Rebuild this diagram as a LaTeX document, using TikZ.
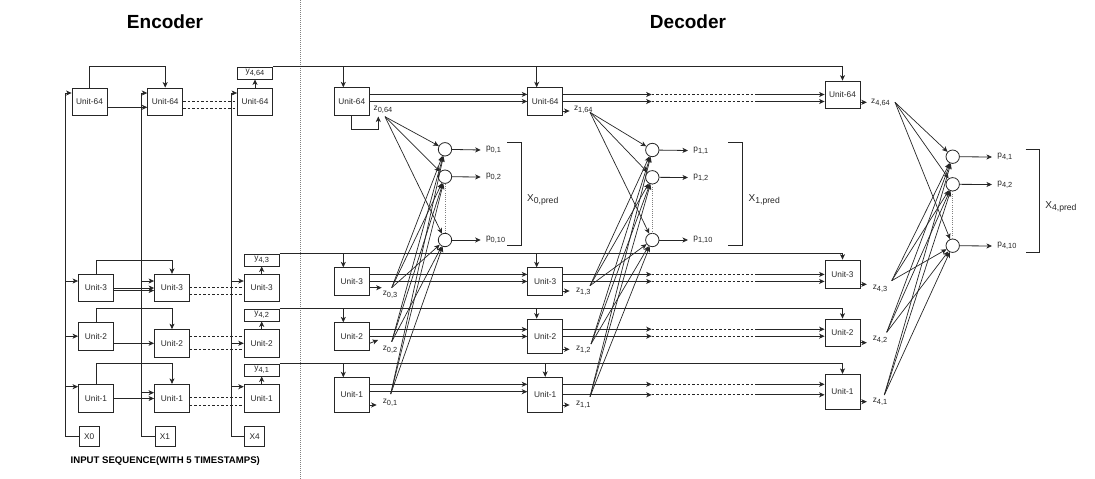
\documentclass[tikz,border=0pt]{standalone}
\usepackage{fontspec}
\setmainfont{Liberation Sans}
\usetikzlibrary{arrows.meta}
\newcommand{\subtxt}[1]{\raisebox{-2pt}{\fontsize{7.4}{8}\selectfont #1}}
\newcommand{\subbig}[1]{\raisebox{-2.2pt}{\fontsize{8.6}{9}\selectfont #1}}

\begin{document}
\begin{tikzpicture}[x=1pt,y=-1pt,line width=0.8pt,color=black!85,
  font=\fontsize{8.3}{10}\selectfont,
  arr/.style={-{Stealth[length=5.5pt,width=5pt,inset=1.5pt]}},
  unit/.style={draw,minimum width=35pt,minimum height=27.5pt,inner sep=0pt},
  ybox/.style={draw,minimum width=35pt,minimum height=12pt,inner sep=0pt},
  xbox/.style={draw,minimum size=20pt,inner sep=0pt},
  neuron/.style={draw,circle,minimum size=13.4pt,inner sep=0pt},
  plabel/.style={anchor=west,inner xsep=5pt,inner ysep=1pt},
  dashline/.style={dash pattern=on 2.5pt off 2pt},
  title/.style={font=\fontsize{19}{22}\selectfont\bfseries,text=black}]
\useasboundingbox (0,0) rectangle (1095,479);

\draw[gray,dash pattern=on 1pt off 1pt,line width=0.6pt] (300,0) -- (300,479);
\node[title] (enc) at (165,21.5) {Encoder};
\node[title] (dec) at (688,21.5) {Decoder};
\node[font=\fontsize{9.6}{11}\selectfont\bfseries,text=black] (inseq) at (165.3,461) {INPUT SEQUENCE(WITH 5 TIMESTAMPS)};

% encoder
\node[unit,minimum height=27pt] (e641) at (89.5,101.5) {Unit-64};
\node[unit,minimum height=27pt] (e642) at (165.2,101.5) {Unit-64};
\node[unit,minimum height=27pt] (e643) at (255,101.5) {Unit-64};
\node[unit] (e31) at (96,288) {Unit-3};
\node[unit] (e32) at (172,288) {Unit-3};
\node[unit] (e33) at (261.7,288) {Unit-3};
\node[unit] (e21) at (96,336.2) {Unit-2};
\node[unit] (e22) at (172,343.3) {Unit-2};
\node[unit] (e23) at (261.7,343.3) {Unit-2};
\node[unit,minimum height=28.4pt] (e11) at (96,398.5) {Unit-1};
\node[unit,minimum height=28.4pt] (e12) at (172,398.5) {Unit-1};
\node[unit,minimum height=28.4pt] (e13) at (261.7,398.5) {Unit-1};
\node[xbox] (x0) at (89.2,436.5) {X0};
\node[xbox] (x1) at (165,436.5) {X1};
\node[xbox] (x4) at (254.6,436.5) {X4};
\node[ybox] (y464) at (255,73) {y\subtxt{4,64}};
\node[ybox] (y43) at (261.7,260) {y\subtxt{4,3}};
\node[ybox] (y42) at (261.7,315) {y\subtxt{4,2}};
\node[ybox] (y41) at (261.7,370) {y\subtxt{4,1}};

\coordinate (in0) at (65,93);
\coordinate (in1) at (141,93);
\coordinate (in4) at (231,93);
\draw (x0.west) -| (in0);
\draw (x1.west) -| (in1);
\draw (x4.west) -| (in4);
\draw[arr] (in0) -- (in0 -| e641.west);
\draw[arr] (in1) -- (in1 -| e642.west);
\draw[arr] (in4) -- (in4 -| e643.west);
\foreach \b/\c/\s in {e31/in0/7,e32/in1/7,e33/in4/7,e21/in0/0,e23/in4/0,e11/in0/11.8,e12/in1/5.8,e13/in4/11.8} {
  \coordinate (t) at ([yshift=\s pt]\b.west);
  \draw[arr] (t -| \c) -- (t);
}
\draw[arr] ([yshift=-5.8pt]e641.east) -- ([yshift=-5.8pt]e642.west);
\draw[arr] (e31.east) -- (e32.west);
\draw[arr] ([yshift=-2.5pt]e31.east) -- ([yshift=-2.5pt]e32.west);
\draw[arr] ([yshift=-7.1pt]e21.east) -- (e22.west);
\draw[arr] (e11.east) -- (e12.west);
\draw[arr] (e641.north) -- ++(0,-21.3) -| (e642.north);
\draw[arr] (e31.north) -- ++(0,-13.3) -| (e32.north);
\draw[arr] (e21.north) -- ++(0,-13.3) -| (e22.north);
\draw[arr] (e11.north) -- ++(0,-20.3) -| (e12.north);
\foreach \a/\b/\s in {e642/e643/0,e642/e643/-6.8,e32/e33/0.7,e32/e33/-6,e22/e23/7.3,e22/e23/-5.7,e12/e13/0.8,e12/e13/-6.5}
  \draw[dashline] ([yshift=\s pt]\a.east) -- ([yshift=\s pt]\b.west);
\draw[arr] (e643.north) -- (y464.south);
\draw[arr] (e33.north) -- (y43.south);
\draw[arr] (e23.north) -- (y42.south);
\draw[arr] (e13.north) -- (y41.south);

% decoder
\node[unit,minimum height=27.3pt] (d641) at (351.8,101.4) {Unit-64};
\node[unit,minimum height=27.3pt] (d31) at (351.8,281.4) {Unit-3};
\node[unit,minimum height=27.3pt] (d21) at (351.8,336.4) {Unit-2};
\node[unit,minimum height=34.6pt] (d11) at (351.8,395) {Unit-1};
\node[unit,minimum height=27.6pt] (d642) at (545.2,101.5) {Unit-64};
\node[unit,minimum height=27.3pt] (d32) at (545.2,281.4) {Unit-3};
\node[unit,minimum height=34.3pt] (d22) at (545.2,336.2) {Unit-2};
\node[unit,minimum height=35pt] (d12) at (545.2,394.8) {Unit-1};
\node[unit,minimum height=27.3pt] (d643) at (842.5,94.7) {Unit-64};
\node[unit,minimum height=28.3pt] (d33) at (842.5,274.2) {Unit-3};
\node[unit,minimum height=27.7pt] (d23) at (842.5,332.9) {Unit-2};
\node[unit,minimum height=34.7pt] (d13) at (842.5,391.7) {Unit-1};

\draw (y464.north east) -- (y464.north east -| d643.north);
\draw (y43.north east) -- (y43.north east -| d33.north);
\draw (y42.north east) -- (y42.north east -| d23.north);
\draw (y41.north east) -- (y41.north east -| d13.north);
\foreach \d/\y/\s in {d641/y464/-8.5,d642/y464/-8.5,d643/y464/0,d31/y43/-8.5,d32/y43/-8.5,d33/y43/0,d21/y42/-8.5,d22/y42/-8.5,d23/y42/0,d11/y41/-8.5,d12/y41/0,d13/y41/0} {
  \coordinate (t) at ([xshift=\s pt]\d.north);
  \draw[arr] (t |- \y.north) -- (t);
}

\coordinate (m1) at (651.7,94);
\coordinate (m2) at (755,94);
\foreach \a/\b/\s in {d641/d642/7,d641/d642/0,d31/d32/7,d31/d32/0,d21/d22/7,d21/d22/0,d11/d12/10.7,d11/d12/3.3} {
  \coordinate (t) at ([yshift=\s pt]\a.east);
  \draw[arr] (t) -- (t -| \b.west);
}
\foreach \b/\c/\s in {d642/d643/7,d642/d643/0,d32/d33/7,d32/d33/0,d22/d23/7,d22/d23/0,d12/d13/10.5,d12/d13/0} {
  \coordinate (t) at ([yshift=\s pt]\b.east);
  \draw[arr] (t) -- (t -| m1);
  \draw[dashline] (t -| m1) -- (t -| m2);
  \draw[arr] (t -| m2) -- (t -| \c.west);
}

% z outputs
\node (z064) at (383,109.3) {z\subtxt{0,64}};
\node (z03) at (390,295) {z\subtxt{0,3}};
\node (z02) at (390,350) {z\subtxt{0,2}};
\node (z01) at (390,402.7) {z\subtxt{0,1}};
\node (z164) at (583.3,109.7) {z\subtxt{1,64}};
\node (z13) at (583.3,291.7) {z\subtxt{1,3}};
\node (z12) at (583.3,350) {z\subtxt{1,2}};
\node (z11) at (583.3,405) {z\subtxt{1,1}};
\node (z464) at (880.5,102.3) {z\subtxt{4,64}};
\node (z43) at (880,288.7) {z\subtxt{4,3}};
\node (z42) at (880,340) {z\subtxt{4,2}};
\node (z41) at (880,402) {z\subtxt{4,1}};

\coordinate (l064) at (378.3,116.5);
\draw[arr] (d641.south) -- ++(0,14) -| (l064);
\draw[arr] ([yshift=-6.3pt]d31.east) -- ++(12,0);
\draw[arr] ([yshift=-6.9pt]d21.east) -- ++(8.4,-3.3);
\draw[arr] ([yshift=-10pt]d11.east) -- ++(7,0);
\foreach \d/\s in {d642/-9.5,d32/-9.6,d22/-13.1,d12/-10.2,d643/-7.6,d33/-10.1,d23/-9.8,d13/-10}
  \draw[arr] ([yshift=\s pt]\d.east) -- ++(6.5,0);

% output layers
\node[neuron] (n01) at (445,149.3) {};
\node[neuron] (n02) at (445,176.7) {};
\node[neuron] (n010) at (445,240) {};
\node[neuron] (n11) at (652.3,150) {};
\node[neuron] (n12) at (652.3,177.3) {};
\node[neuron] (n110) at (652.3,240) {};
\node[neuron] (n41) at (952.7,156.7) {};
\node[neuron] (n42) at (952.7,184.3) {};
\node[neuron] (n410) at (952.7,245.7) {};

\coordinate (s064) at (385,116.7);
\coordinate (s03) at (391.7,287.7);
\coordinate (s02) at (391.7,341.7);
\coordinate (s01) at (390.7,394);
\coordinate (s164) at (590,112.3);
\coordinate (s13) at (590,285.7);
\coordinate (s12) at (591,344);
\coordinate (s11) at (590,396.7);
\coordinate (s464) at (895,102.3);
\coordinate (s43) at (891.7,280.7);
\coordinate (s42) at (886.7,332.3);
\coordinate (s41) at (884.3,395);
\foreach \s in {s064,s03,s02,s01}
  \foreach \n in {n01,n02,n010}
    \draw[arr,line width=0.7pt] (\s) -- (\n);
\foreach \s in {s164,s13,s12,s11}
  \foreach \n in {n11,n12,n110}
    \draw[arr,line width=0.7pt] (\s) -- (\n);
\foreach \s in {s464,s43,s42,s41}
  \foreach \n in {n41,n42,n410}
    \draw[arr,line width=0.7pt] (\s) -- (\n);

\node[plabel] (p01) at (480.7,150) {p\subtxt{0,1}};
\node[plabel] (p02) at (480.7,177) {p\subtxt{0,2}};
\node[plabel] (p010) at (480.7,240) {p\subtxt{0,10}};
\node[plabel] (p11) at (688,150.5) {p\subtxt{1,1}};
\node[plabel] (p12) at (688,177.5) {p\subtxt{1,2}};
\node[plabel] (p110) at (688,240) {p\subtxt{1,10}};
\node[plabel] (p41) at (992,157) {p\subtxt{4,1}};
\node[plabel] (p42) at (992,184.5) {p\subtxt{4,2}};
\node[plabel] (p410) at (992,246) {p\subtxt{4,10}};
\foreach \n/\p in {n01/p01,n02/p02,n010/p010,n11/p11,n12/p12,n110/p110,n41/p41,n42/p42,n410/p410}
  \draw[arr] (\n) -- (\p.west);
\draw[gray,dash pattern=on 1pt off 1.2pt] (n02) -- (n010);
\draw[gray,dash pattern=on 1pt off 1.2pt] (n12) -- (n110);
\draw[gray,dash pattern=on 1pt off 1.2pt] (n42) -- (n410);

\draw (507.3,142.7) -| (521.7,245) -- (507.3,245);
\draw (728.3,142.7) -| (742.7,245) -- (728.3,245);
\draw (1025.7,149.3) -| (1039.3,252.7) -- (1025.7,252.7);
\node[anchor=west,font=\fontsize{10}{12}\selectfont] (xp0) at (523.5,200) {X\subbig{0,pred}};
\node[anchor=west,font=\fontsize{10}{12}\selectfont] (xp1) at (745,200) {X\subbig{1,pred}};
\node[anchor=west,font=\fontsize{10}{12}\selectfont] (xp4) at (1041.7,206.7) {X\subbig{4,pred}};
\end{tikzpicture}
\end{document}
